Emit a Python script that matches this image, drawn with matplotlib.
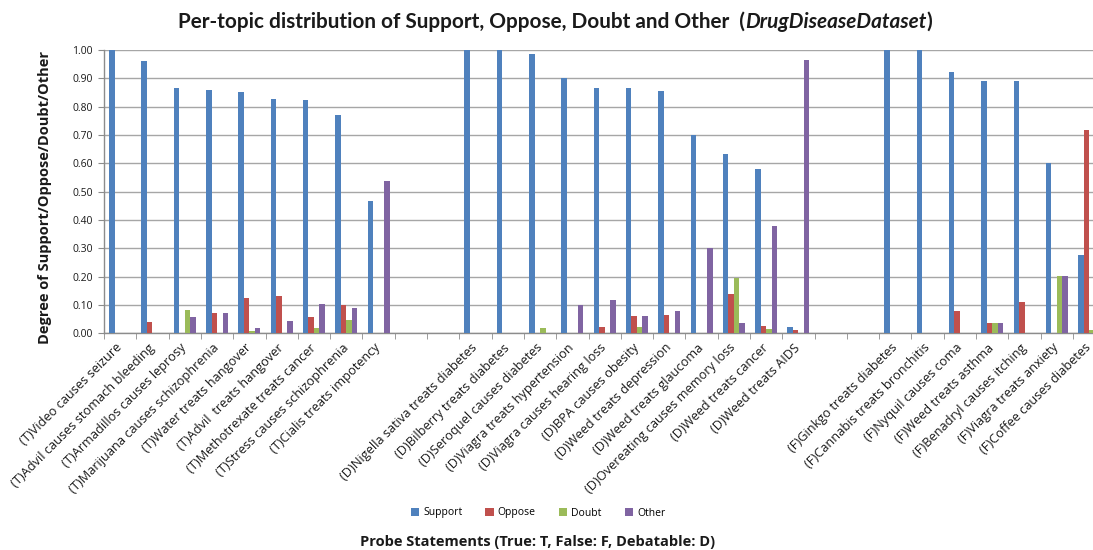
import numpy as np
import matplotlib
matplotlib.use("Agg")
import matplotlib.pyplot as plt
from matplotlib.ticker import FixedLocator, FormatStrFormatter

# Probe statements, grouped True / Debatable / False, with two empty slots between groups
statements = [
    "(T)Video causes seizure",
    "(T)Advil causes stomach bleeding",
    "(T)Armadillos causes leprosy",
    "(T)Marijuana causes schizophrenia",
    "(T)Water treats hangover",
    "(T)Advil  treats hangover",
    "(T)Methotrexate treats cancer",
    "(T)Stress causes schizophrenia",
    "(T)Cialis treats impotency",
    "", "",
    "(D)Nigella sativa treats diabetes",
    "(D)Bilberry treats diabetes",
    "(D)Seroquel causes diabetes",
    "(D)Viagra treats hypertension",
    "(D)Viagra causes hearing loss",
    "(D)BPA causes obesity",
    "(D)Weed treats depression",
    "(D)Weed treats glaucoma",
    "(D)Overeating causes memory loss",
    "(D)Weed treats cancer",
    "(D)Weed treats AIDS",
    "", "",
    "(F)Ginkgo treats diabetes",
    "(F)Cannabis treats bronchitis",
    "(F)Nyquil causes coma",
    "(F)Weed treats asthma",
    "(F)Benadryl causes itching",
    "(F)Viagra treats anxiety",
    "(F)Coffee causes diabetes",
]

support = [1.00, 0.962, 0.865, 0.859, 0.852, 0.826, 0.822, 0.771, 0.466,
           0, 0,
           1.00, 1.00, 0.985, 0.902, 0.865, 0.865, 0.855, 0.701, 0.632, 0.579, 0.024,
           0, 0,
           1.00, 1.00, 0.924, 0.891, 0.891, 0.600, 0.276]
oppose = [0, 0.039, 0, 0.072, 0.125, 0.132, 0.056, 0.100, 0,
          0, 0,
          0, 0, 0, 0, 0.021, 0.060, 0.066, 0, 0.138, 0.027, 0.011,
          0, 0,
          0, 0, 0.079, 0.036, 0.111, 0, 0.716]
doubt = [0, 0, 0.082, 0, 0.007, 0, 0.020, 0.046, 0,
         0, 0,
         0, 0, 0.018, 0, 0, 0.021, 0, 0, 0.195, 0.016, 0,
         0, 0,
         0, 0, 0, 0.036, 0, 0.201, 0.010]
other = [0, 0, 0.056, 0.072, 0.018, 0.044, 0.105, 0.089, 0.536,
         0, 0,
         0, 0, 0, 0.100, 0.118, 0.060, 0.079, 0.301, 0.036, 0.378, 0.966,
         0, 0,
         0, 0, 0, 0.036, 0, 0.201, 0]

series = [("Support", support, "#4F81BD"),
          ("Oppose", oppose, "#C0504D"),
          ("Doubt", doubt, "#9BBB59"),
          ("Other", other, "#8064A2")]

title_parts = [("Per-topic distribution of Support, Oppose, Doubt and Other  (", "normal"),
               ("DrugDiseaseDataset", "italic"),
               (")", "normal")]

plt.rcParams["font.family"] = ["Open Sans", "DejaVu Sans"]

W, H = 1093, 550
fig = plt.figure(figsize=(W / 100, H / 100), dpi=100)
ax = fig.add_axes([104 / W, 1 - 333.3 / H, 1001.3 / W, 283.3 / H])

x = np.arange(len(statements))
w = 0.17
for i, (name, vals, col) in enumerate(series):
    ax.bar(x + (i - 1.5) * w, vals, width=w, color=col, label=name, zorder=3,
           linewidth=0)

ax.set_xlim(-0.5, len(statements) - 0.5)
ax.set_ylim(0, 1.0)
ax.yaxis.set_major_locator(FixedLocator(np.round(np.arange(0, 1.01, 0.1), 2)))
ax.yaxis.set_major_formatter(FormatStrFormatter("%.2f"))
ax.grid(axis="y", color="#A6A6A6", linewidth=1.0, zorder=0)

ax.set_xticks(x)
ax.set_xticklabels(statements, rotation=45, ha="right", va="center",
                   rotation_mode="anchor", fontsize=9.2, color="#1A1A1A")
ax.set_xticks(np.arange(-0.5, len(statements), 1.0), minor=True)
ax.tick_params(axis="x", which="major", length=0, pad=9)
ax.tick_params(axis="x", which="minor", length=4, direction="out", color="#8C8C8C")
ax.tick_params(axis="y", length=4, direction="out", color="#8C8C8C",
               labelsize=7.5, pad=4, labelcolor="#1A1A1A")

for side in ("top", "right"):
    ax.spines[side].set_visible(False)
for side in ("left", "bottom"):
    ax.spines[side].set_color("#8C8C8C")
    ax.spines[side].set_linewidth(1.0)

# Title: upright text with an italic dataset name, laid out piece by piece
renderer = fig.canvas.get_renderer()
title_fs = 14
title_left, title_right, title_y = 178, 938, 1 - 22 / H
pieces = [fig.text(0, title_y, s, ha="left", va="center", fontsize=title_fs,
                   fontweight="bold", fontstyle=st, family=["Lato", "DejaVu Sans"],
                   color="#1A1A1A") for s, st in title_parts]
total = sum(p.get_window_extent(renderer).width for p in pieces)
scale = (title_right - title_left) / total
for p in pieces:
    p.set_fontsize(title_fs * scale)
xpos = title_left
for p in pieces:
    p.set_x(xpos / W)
    xpos += p.get_window_extent(renderer).width

fig.text(45 / W, 1 - 198 / H, "Degree of Support/Oppose/Doubt/Other",
         rotation=90, ha="center", va="center", fontsize=10.5, fontweight="bold",
         color="#1A1A1A")
fig.text(538 / W, 1 - 542 / H, "Probe Statements (True: T, False: F, Debatable: D)",
         ha="center", va="center", fontsize=10.5, fontweight="bold", color="#1A1A1A")

fig.legend(loc="center", bbox_to_anchor=(538 / W, 1 - 513 / H), ncol=4,
           frameon=False, fontsize=7.5, handlelength=0.8, handleheight=0.8,
           handletextpad=0.4, columnspacing=2.2)

fig.savefig("out.png", dpi=100)
